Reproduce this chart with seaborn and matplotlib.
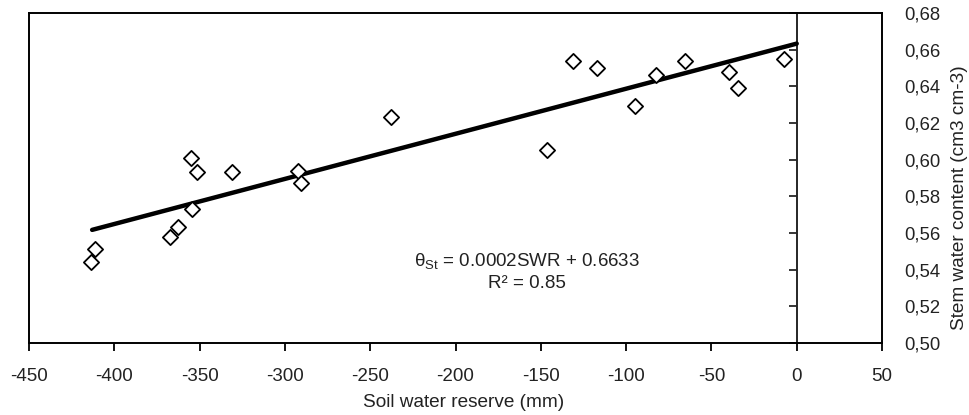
import numpy as np
import pandas as pd
import matplotlib
matplotlib.use("Agg")
import matplotlib.pyplot as plt
import seaborn as sns

# data
swr = [-413.8, -411.3, -367.4, -362.5, -354.6, -355.0, -351.7, -330.8,
       -292.1, -290.7, -238.0, -146.5, -131.3, -116.9, -94.6, -82.7,
       -65.5, -39.7, -34.2, -7.5]
theta = [0.544, 0.551, 0.558, 0.563, 0.573, 0.601, 0.593, 0.593,
         0.594, 0.587, 0.623, 0.605, 0.654, 0.650, 0.629, 0.646,
         0.654, 0.648, 0.639, 0.655]

# regression line as drawn (rounded in the label)
fit_slope = 0.000246
fit_intercept = 0.6633
fit_x = [-413.0, 0.0]

x_ticks = [-450, -400, -350, -300, -250, -200, -150, -100, -50, 0, 50]
y_ticks = [0.50, 0.52, 0.54, 0.56, 0.58, 0.60, 0.62, 0.64, 0.66, 0.68]

df = pd.DataFrame({"SWR": swr, "theta": theta})
df_fit = pd.DataFrame({"SWR": fit_x,
                       "theta": [fit_slope * v + fit_intercept for v in fit_x]})

sns.set_theme(style="white")
plt.rcParams["font.family"] = ["Liberation Sans", "DejaVu Sans"]
plt.rcParams["mathtext.fontset"] = "custom"
plt.rcParams["mathtext.rm"] = "Liberation Sans"

fig = plt.figure(figsize=(9.7, 4.15), dpi=100)
ax = fig.add_axes([0.0299, 0.1735, 0.8794, 0.7952])

sns.lineplot(data=df_fit, x="SWR", y="theta", ax=ax, color="black", linewidth=3.2)
sns.scatterplot(data=df, x="SWR", y="theta", ax=ax, marker="D", s=60,
                color="white", edgecolor="black", linewidth=1.3, zorder=3)

ax.set_xlim(-450, 50)
ax.set_ylim(0.50, 0.68)
ax.set_xticks(x_ticks)
ax.set_xticklabels([str(v) for v in x_ticks], fontsize=13.5)
ax.set_yticks(y_ticks)
ax.set_yticklabels([f"{v:.2f}".replace(".", ",") for v in y_ticks], fontsize=13.3)

ax.yaxis.tick_right()
ax.tick_params(axis="y", length=0, pad=16, colors="#222222")
ax.tick_params(axis="x", direction="out", length=6, width=1.3, bottom=True,
               pad=12, colors="#222222")
ax.tick_params(axis="x", color="black")

for sp in ax.spines.values():
    sp.set_color("black")
    sp.set_linewidth(1.4)

# y axis crossing at SWR = 0 (ticks only)
sec = ax.secondary_yaxis(0.9)
sec.set_alignment("left")
sec.set_yticks(y_ticks)
sec.tick_params(axis="y", direction="out", length=6, width=1.3,
                labelleft=False, labelright=False)
sec.spines["left"].set_linewidth(1.4)

ax.set_xlabel("Soil water reserve (mm)", fontsize=13.7, color="#222222")
ax.xaxis.set_label_coords(0.51, -0.155)
ax.yaxis.set_label_position("right")
ax.set_ylabel("Stem water content (cm3 cm-3)", fontsize=13.7, color="#222222",
              rotation=90)
ax.yaxis.set_label_coords(1.091, 0.44)
ax.yaxis.label.set_va("center")
ax.yaxis.label.set_ha("center")

ax.text(-158, 0.5445, "θ$_\\mathregular{St}$ = 0.0002SWR + 0.6633",
        ha="center", va="center", fontsize=13.5, color="#222222")
ax.text(-158, 0.5327, "R² = 0.85", ha="center", va="center",
        fontsize=13.5, color="#222222")

fig.savefig("out.png", dpi=100)
